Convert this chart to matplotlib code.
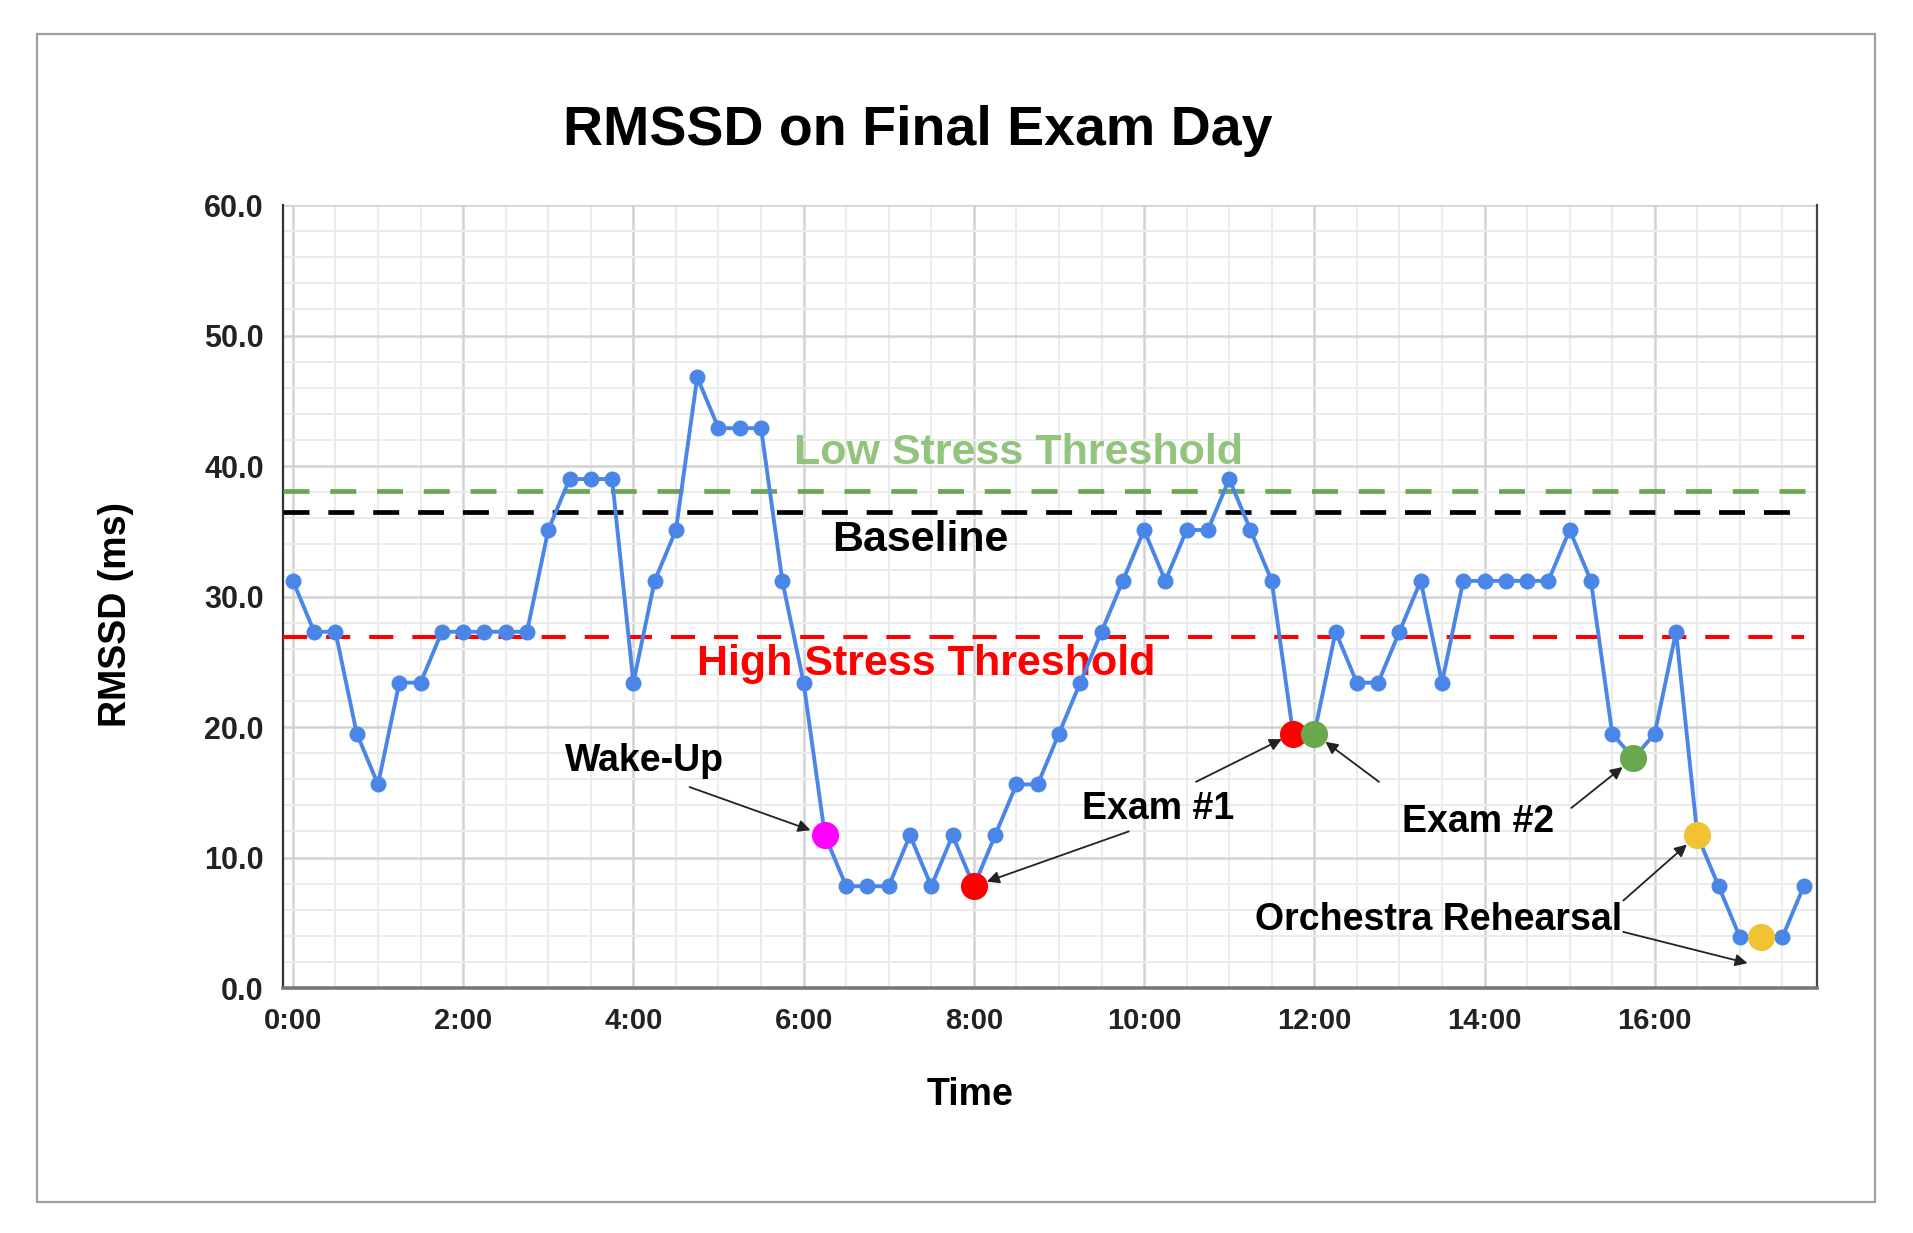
import matplotlib
matplotlib.use("Agg")
import matplotlib.pyplot as plt
from matplotlib.patches import Rectangle
from matplotlib.ticker import MultipleLocator, FormatStrFormatter

plt.rcParams['font.family'] = ['Liberation Sans', 'DejaVu Sans']
plt.rcParams['font.weight'] = 'bold'

# measurements every 15 min
time_labels = ['0:00', '0:15', '0:30', '0:45', '1:00', '1:15', '1:30', '1:45',
               '2:00', '2:15', '2:30', '2:45', '3:00', '3:15', '3:30', '3:45',
               '4:00', '4:15', '4:30', '4:45', '5:00', '5:15', '5:30', '5:45',
               '6:00', '6:15', '6:30', '6:45', '7:00', '7:15', '7:30', '7:45',
               '8:00', '8:15', '8:30', '8:45', '9:00', '9:15', '9:30', '9:45',
               '10:00', '10:15', '10:30', '10:45', '11:00', '11:15', '11:30', '11:45',
               '12:00', '12:15', '12:30', '12:45', '13:00', '13:15', '13:30', '13:45',
               '14:00', '14:15', '14:30', '14:45', '15:00', '15:15', '15:30', '15:45',
               '16:00', '16:15', '16:30', '16:45', '17:00', '17:15', '17:30', '17:45']
rmssd = [31.2, 27.3, 27.3, 19.5, 15.6, 23.4, 23.4, 27.3,
         27.3, 27.3, 27.3, 27.3, 35.1, 39.0, 39.0, 39.0,
         23.4, 31.2, 35.1, 46.8, 42.9, 42.9, 42.9, 31.2,
         23.4, 11.7, 7.8, 7.8, 7.8, 11.7, 7.8, 11.7,
         7.8, 11.7, 15.6, 15.6, 19.5, 23.4, 27.3, 31.2,
         35.1, 31.2, 35.1, 35.1, 39.0, 35.1, 31.2, 19.5,
         19.5, 27.3, 23.4, 23.4, 27.3, 31.2, 23.4, 31.2,
         31.2, 31.2, 31.2, 31.2, 35.1, 31.2, 19.5, 17.6,
         19.5, 27.3, 11.7, 7.8, 3.9, 3.9, 3.9, 7.8]

low_stress = 38.1
baseline = 36.5
high_stress = 26.9

highlight_times = ['6:15', '8:00', '11:45', '12:00', '15:45', '16:30', '17:15']
highlight_colors = ['#ff00ff', '#ff0000', '#ff0000', '#6aa84f', '#6aa84f', '#f1c232', '#f1c232']

x_ticks = ['0:00', '2:00', '4:00', '6:00', '8:00', '10:00', '12:00', '14:00', '16:00']


def to_hours(s):
    h, m = s.split(':')
    return int(h) + int(m) / 60.0


t = [to_hours(s) for s in time_labels]

fig = plt.figure(figsize=(19.13, 12.33), dpi=100)
fig.patches.append(Rectangle((0.0193, 0.025), 0.9607, 0.9475, transform=fig.transFigure,
                             fill=False, edgecolor='#a0a0a0', linewidth=1.6))

ax = fig.add_axes([0.148, 0.1987, 0.802, 0.635])
ax.set_xlim(-0.115, 17.91)
ax.set_ylim(0, 60)

# grid like the spreadsheet
ax.xaxis.set_major_locator(MultipleLocator(2))
ax.xaxis.set_minor_locator(MultipleLocator(0.5))
ax.yaxis.set_major_locator(MultipleLocator(10))
ax.yaxis.set_minor_locator(MultipleLocator(2))
ax.grid(which='minor', color='#ebebeb', linewidth=1.4)
ax.grid(which='major', color='#d2d2d2', linewidth=1.8)
ax.set_axisbelow(True)
ax.set_xticks([to_hours(s) for s in x_ticks])
ax.set_xticklabels(x_ticks)
ax.yaxis.set_major_formatter(FormatStrFormatter('%.1f'))
ax.tick_params(which='both', length=0)
ax.tick_params(axis='x', labelsize=21, pad=14, colors='#222222')
ax.tick_params(axis='y', labelsize=22, pad=14, colors='#222222')

ax.spines['top'].set_visible(False)
ax.spines['left'].set_color('#333333')
ax.spines['left'].set_linewidth(1.6)
ax.spines['right'].set_color('#444444')
ax.spines['right'].set_linewidth(1.6)
ax.spines['bottom'].set_color('#777777')
ax.spines['bottom'].set_linewidth(2.6)

x0, x1 = ax.get_xlim()[0], t[-1]
ax.plot([x0, x1 + 0.05], [low_stress, low_stress], color='#6aa84f', lw=3.4, dashes=(5.5, 4.4), zorder=3)
ax.plot([x0, x1], [baseline, baseline], color='#000000', lw=3.4, dashes=(5.5, 4.0), zorder=3)
ax.plot([x0, x1], [high_stress, high_stress], color='#ff0000', lw=2.9, dashes=(6, 4.7), zorder=3)

ax.plot(t, rmssd, color='#4a86e8', lw=2.8, marker='o', markersize=10.5, zorder=4)

for s, c in zip(highlight_times, highlight_colors):
    i = time_labels.index(s)
    ax.plot(t[i], rmssd[i], 'o', color=c, markersize=18.5, zorder=5)

ax.text(8.53, 41.0, 'Low Stress Threshold', color='#93c47d', fontsize=31, ha='center', va='center')
ax.text(7.37, 34.3, 'Baseline', color='#000000', fontsize=31, ha='center', va='center')
ax.text(7.44, 24.8, 'High Stress Threshold', color='#ff0000', fontsize=31, ha='center', va='center')

ax.text(4.13, 17.4, 'Wake-Up', fontsize=27, ha='center', va='center')
ax.text(10.16, 13.7, 'Exam #1', fontsize=27, ha='center', va='center')
ax.text(13.92, 12.7, 'Exam #2', fontsize=27, ha='center', va='center')
ax.text(13.46, 5.2, 'Orchestra Rehearsal', fontsize=27, ha='center', va='center')

arrow_kw = dict(arrowstyle='-|>', color='#222222', lw=1.3, mutation_scale=18, shrinkA=0)


def point(s):
    i = time_labels.index(s)
    return (t[i], rmssd[i])


ax.annotate('', xy=point('6:15'), xytext=(4.66, 15.4), arrowprops=dict(shrinkB=11, **arrow_kw))
ax.annotate('', xy=point('8:00'), xytext=(9.82, 12.0), arrowprops=dict(shrinkB=10, **arrow_kw))
ax.annotate('', xy=point('11:45'), xytext=(10.61, 15.8), arrowprops=dict(shrinkB=9, **arrow_kw))
ax.annotate('', xy=point('12:00'), xytext=(12.76, 15.8), arrowprops=dict(shrinkB=10, **arrow_kw))
ax.annotate('', xy=point('15:45'), xytext=(15.02, 13.8), arrowprops=dict(shrinkB=10, **arrow_kw))
ax.annotate('', xy=point('16:30'), xytext=(15.63, 6.7), arrowprops=dict(shrinkB=10, **arrow_kw))
ax.annotate('', xy=(17.09, 1.9), xytext=(15.63, 4.3), arrowprops=dict(shrinkB=0, **arrow_kw))

fig.text(0.48, 0.894, 'RMSSD on Final Exam Day', fontsize=40, ha='center', va='center')
fig.text(0.507, 0.112, 'Time', fontsize=27, ha='center', va='center')
fig.text(0.0606, 0.502, 'RMSSD (ms)', fontsize=27, ha='center', va='center', rotation=90)

fig.savefig('out.png', dpi=100)
